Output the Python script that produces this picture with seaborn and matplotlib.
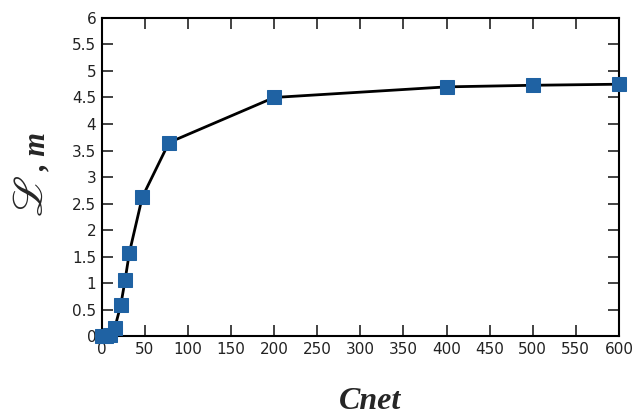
import numpy as np
import pandas as pd
import matplotlib
matplotlib.use("Agg")
import matplotlib.pyplot as plt
import seaborn as sns

# data
cnet = [0, 5, 10, 15, 22, 27, 32, 47, 78, 200, 400, 500, 600]
length = [0.0, 0.0, 0.02, 0.15, 0.58, 1.05, 1.57, 2.62, 3.65, 4.5, 4.7, 4.73, 4.75]
xticks = list(range(0, 601, 50))
yticks = [0, 0.5, 1, 1.5, 2, 2.5, 3, 3.5, 4, 4.5, 5, 5.5, 6]

df = pd.DataFrame({"Cnet": cnet, "L": length})

sns.set_style("ticks")
plt.rcParams["font.family"] = ["DejaVu Sans"]
plt.rcParams["mathtext.fontset"] = "stix"

fig = plt.figure(figsize=(6.4, 4.17), dpi=100)
ax = fig.add_axes([0.159, 0.194, 0.808, 0.763])

sns.lineplot(data=df, x="Cnet", y="L", ax=ax, color="black", linewidth=2,
             marker="s", markersize=10, markerfacecolor="#1f62a3",
             markeredgecolor="#1f62a3", zorder=3, clip_on=False)

ax.set_xlim(0, 600)
ax.set_ylim(0, 6)
ax.set_xticks(xticks)
ax.set_yticks(yticks)
ax.set_yticklabels([f"{v:g}" for v in yticks])
ax.tick_params(direction="in", top=True, right=True, length=8, width=1.2,
               labelsize=11, pad=4, colors="#222222")
for s in ax.spines.values():
    s.set_linewidth(1.5)
    s.set_color("black")

ax.set_xlabel("")
ax.set_ylabel("")
# axis titles placed by hand (script L is larger than the ", m")
ax.text(0.518, -0.205, "Cnet", transform=ax.transAxes, ha="center", va="center",
        fontsize=23, fontweight="bold", fontstyle="italic", family="Liberation Serif")
ax.text(-0.137, 0.44, r"$\mathscr{L}$", transform=ax.transAxes, rotation=90,
        ha="center", va="center", fontsize=31)
ax.text(-0.124, 0.52, ", m", transform=ax.transAxes, rotation=90,
        ha="center", va="bottom", fontsize=22, fontweight="bold",
        fontstyle="italic", family="Liberation Serif")

fig.savefig("out.png", dpi=100)
